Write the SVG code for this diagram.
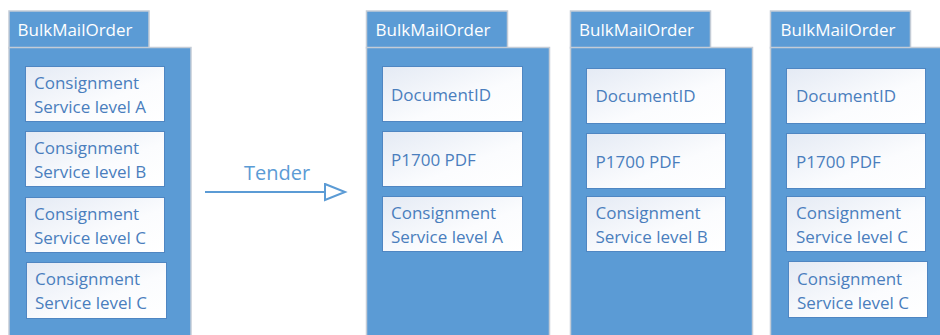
<svg xmlns="http://www.w3.org/2000/svg" width="940" height="335" viewBox="0 0 940 335">
<defs>
<linearGradient id="bg" x1="0" y1="0" x2="1" y2="1">
<stop offset="0" stop-color="#e4eaf4"/>
<stop offset="0.6" stop-color="#fbfcfe"/>
<stop offset="1" stop-color="#ffffff"/>
</linearGradient>
<marker id="tri" markerWidth="24" markerHeight="20" refX="21" refY="9" orient="auto" markerUnits="userSpaceOnUse">
<path d="M1,1 L21,9 L1,17 Z" fill="#ffffff" stroke="#5b9bd5" stroke-width="2"/>
</marker>
<style>
.pk{fill:#5b9bd5;stroke:#c4ccd6;stroke-width:1.5}
.bx{fill:url(#bg);stroke:#4f86c2;stroke-width:1}
.tt{font-family:"Open Sans","Noto Sans",sans-serif;font-size:17px;fill:#ffffff}
.t{font-family:"Open Sans","Noto Sans",sans-serif;font-size:17px;fill:#4a7ebd}
.lbl{font-family:"Open Sans","Noto Sans",sans-serif;font-size:20px;fill:#5b9bd5}
</style>
</defs>
<rect width="940" height="335" fill="#ffffff"/>

<g id="pkg1">
<rect class="pk" x="9" y="11" width="140" height="37"/>
<rect class="pk" x="9" y="47.5" width="182" height="300"/>
<text class="tt" x="17.5" y="36">BulkMailOrder</text>
<rect class="bx" x="25.5" y="66.5" width="139" height="55"/>
<text class="t" x="34" y="89">Consignment</text>
<text class="t" x="34" y="113">Service level A</text>
<rect class="bx" x="25.5" y="131.5" width="139" height="55"/>
<text class="t" x="34" y="154">Consignment</text>
<text class="t" x="34" y="178">Service level B</text>
<rect class="bx" x="25.5" y="197.5" width="139" height="55"/>
<text class="t" x="34" y="219.5">Consignment</text>
<text class="t" x="34" y="243.5">Service level C</text>
<rect class="bx" x="26.5" y="262.5" width="140" height="56"/>
<text class="t" x="35" y="285">Consignment</text>
<text class="t" x="35" y="309">Service level C</text>
</g>

<g id="connectors">
<line x1="205" y1="192" x2="345" y2="192" stroke="#5b9bd5" stroke-width="2" marker-end="url(#tri)"/>
<text class="lbl" x="277" y="180" text-anchor="middle">Tender</text>
</g>

<g id="pkg2">
<rect class="pk" x="366.5" y="11" width="141" height="37"/>
<rect class="pk" x="366.5" y="47.5" width="183" height="300"/>
<text class="tt" x="375.5" y="35.5">BulkMailOrder</text>
<rect class="bx" x="382.5" y="66.5" width="140" height="55"/>
<text class="t" x="391" y="100.5">DocumentID</text>
<rect class="bx" x="382.5" y="131.5" width="140" height="55"/>
<text class="t" x="391" y="166">P1700 PDF</text>
<rect class="bx" x="382.5" y="196.5" width="140" height="55"/>
<text class="t" x="391" y="219">Consignment</text>
<text class="t" x="391" y="242.5">Service level A</text>
</g>

<g id="pkg3">
<rect class="pk" x="570.5" y="11" width="140" height="37"/>
<rect class="pk" x="570.5" y="47.5" width="182" height="300"/>
<text class="tt" x="579" y="36">BulkMailOrder</text>
<rect class="bx" x="586.5" y="68.5" width="139" height="55"/>
<text class="t" x="595.5" y="102">DocumentID</text>
<rect class="bx" x="586.5" y="133.5" width="139" height="55"/>
<text class="t" x="595.5" y="168">P1700 PDF</text>
<rect class="bx" x="586.5" y="196.5" width="139" height="55"/>
<text class="t" x="595.5" y="219">Consignment</text>
<text class="t" x="595.5" y="243">Service level B</text>
</g>

<g id="pkg4">
<rect class="pk" x="770.5" y="11" width="140" height="37"/>
<rect class="pk" x="770.5" y="47.5" width="182" height="300"/>
<text class="tt" x="780.5" y="36">BulkMailOrder</text>
<rect class="bx" x="786.5" y="68.5" width="139" height="55"/>
<text class="t" x="796" y="102">DocumentID</text>
<rect class="bx" x="786.5" y="133.5" width="139" height="55"/>
<text class="t" x="796" y="168">P1700 PDF</text>
<rect class="bx" x="786.5" y="196.5" width="139" height="55"/>
<text class="t" x="796" y="219">Consignment</text>
<text class="t" x="796" y="243">Service level C</text>
<rect class="bx" x="788.5" y="261.5" width="139" height="56"/>
<text class="t" x="797" y="285">Consignment</text>
<text class="t" x="797" y="308.5">Service level C</text>
</g>
</svg>
